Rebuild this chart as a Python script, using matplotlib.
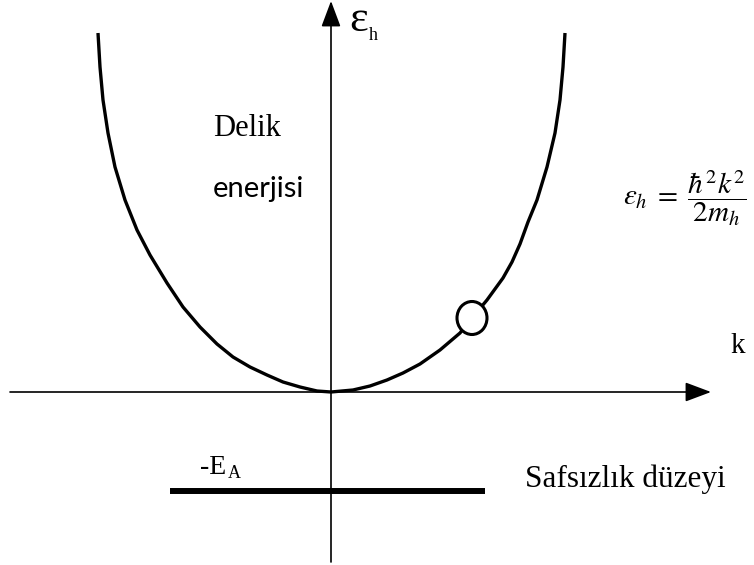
import matplotlib.pyplot as plt
from matplotlib.patches import Ellipse

plt.rcParams['mathtext.fontset'] = 'stix'

# hole energy band (k, energy) in arbitrary units
k_left = [-2.33, -2.31, -2.28, -2.23, -2.16, -2.06, -1.94, -1.81, -1.64,
          -1.48, -1.31, -1.14, -0.98, -0.81, -0.64, -0.48, -0.31, -0.14, 0.0]
e_left = [3.59, 3.25, 2.92, 2.59, 2.25, 1.92, 1.62, 1.37, 1.09,
          0.85, 0.65, 0.48, 0.35, 0.25, 0.17, 0.10, 0.05, 0.01, 0.0]
k_right = [0.0, 0.22, 0.39, 0.56, 0.72, 0.89, 1.09, 1.29, 1.41, 1.56,
           1.72, 1.81, 1.89, 1.97, 2.06, 2.16, 2.24, 2.29, 2.32, 2.34]
e_right = [0.0, 0.02, 0.06, 0.12, 0.19, 0.28, 0.42, 0.59, 0.74, 0.92,
           1.14, 1.30, 1.48, 1.70, 1.92, 2.25, 2.59, 2.92, 3.25, 3.59]

# hole marker on the band
hole_k, hole_e = 1.41, 0.74

# acceptor (impurity) level
level_k = [-1.61, 1.54]
level_e = -0.99

fig = plt.figure(figsize=(7.54, 5.65), dpi=100)
ax = fig.add_axes([0, 0, 1, 1])
ax.set_xlim(-3.31, 4.23)
ax.set_ylim(-1.73, 3.92)
ax.axis('off')

# axes with arrow heads
arrow = dict(arrowstyle='-|>,head_length=0.8,head_width=0.3', color='black',
             lw=1.2, shrinkA=0, shrinkB=0, mutation_scale=20)
ax.annotate('', xy=(3.80, 0), xytext=(-3.21, 0), arrowprops=arrow)
ax.annotate('', xy=(0, 3.91), xytext=(0, -1.70), arrowprops=arrow)

ax.plot(k_left + k_right[1:], e_left + e_right[1:], color='black', lw=2.4,
        solid_capstyle='butt', solid_joinstyle='round')
ax.add_patch(Ellipse((hole_k, hole_e), 0.30, 0.33, facecolor='white',
                     edgecolor='black', lw=2.2, zorder=5))

ax.plot(level_k, [level_e, level_e], color='black', lw=4.3,
        solid_capstyle='butt')

serif = 'Liberation Serif'
ax.text(0.18, 3.72, 'ε', family=serif, fontsize=32, va='center', ha='left')
ax.text(0.38, 3.57, 'h', family=serif, fontsize=13, va='center', ha='left')
ax.text(-1.18, 2.64, 'Delik', family=serif, fontsize=22, va='center')
ax.text(-1.18, 2.03, 'enerjisi', family='Lato', fontsize=21, va='center')
ax.text(2.92, 1.94, r'$\varepsilon_h\;=\;\dfrac{\hbar^2 k^2}{2m_h}$',
        fontsize=21, va='center', ha='left')
ax.text(3.99, 0.46, 'k', family=serif, fontsize=21, va='center')
ax.text(-1.31, -0.76, '-E', family=serif, fontsize=20, va='center')
ax.text(-1.03, -0.82, 'A', family=serif, fontsize=13, va='center')
ax.text(1.94, -0.87, 'Safsızlık düzeyi', family=serif, fontsize=22.5,
        va='center')

fig.savefig('out.png', dpi=100)
